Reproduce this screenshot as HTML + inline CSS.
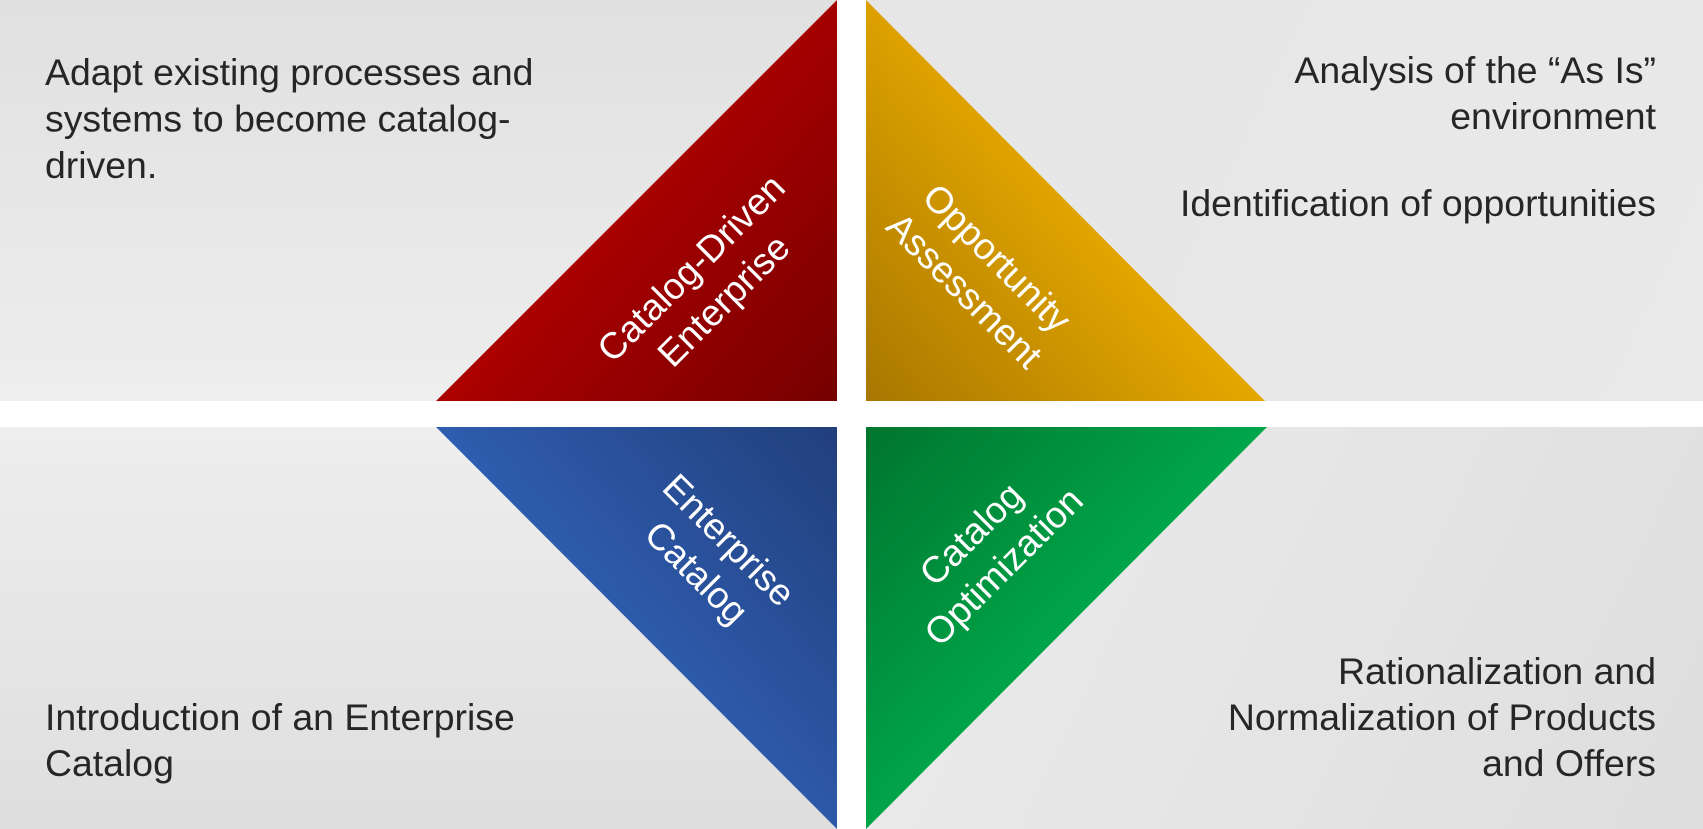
<!DOCTYPE html>
<html>
<head>
<meta charset="utf-8">
<style>
  html,body{margin:0;padding:0;background:#fff;}
  body{width:1703px;height:829px;overflow:hidden;}
  svg{display:block;}
  text{font-family:"Liberation Sans", Arial, sans-serif;}
</style>
</head>
<body>
<svg width="1703" height="829" viewBox="0 0 1703 829" xmlns="http://www.w3.org/2000/svg">
  <defs>
    <linearGradient id="gTL" x1="0" y1="0" x2="0" y2="401" gradientUnits="userSpaceOnUse">
      <stop offset="0" stop-color="#e0e0e0"/>
      <stop offset="1" stop-color="#eeeeee"/>
    </linearGradient>
    <linearGradient id="gBL" x1="0" y1="427" x2="0" y2="829" gradientUnits="userSpaceOnUse">
      <stop offset="0" stop-color="#eeeeee"/>
      <stop offset="1" stop-color="#dedede"/>
    </linearGradient>
    <linearGradient id="gTR" x1="866" y1="0" x2="1703" y2="401" gradientUnits="userSpaceOnUse">
      <stop offset="0" stop-color="#e6e6e6"/>
      <stop offset="1" stop-color="#e9e9e9"/>
    </linearGradient>
    <linearGradient id="gBR" x1="866" y1="427" x2="1703" y2="829" gradientUnits="userSpaceOnUse">
      <stop offset="0" stop-color="#ececec"/>
      <stop offset="1" stop-color="#dedede"/>
    </linearGradient>

    <linearGradient id="red" x1="600" y1="200" x2="837" y2="401" gradientUnits="userSpaceOnUse">
      <stop offset="0" stop-color="#ad0000"/>
      <stop offset="1" stop-color="#760000"/>
    </linearGradient>
    <linearGradient id="yel" x1="1100" y1="200" x2="866" y2="401" gradientUnits="userSpaceOnUse">
      <stop offset="0" stop-color="#e6a800"/>
      <stop offset="1" stop-color="#a87700"/>
    </linearGradient>
    <linearGradient id="blu" x1="600" y1="630" x2="837" y2="427" gradientUnits="userSpaceOnUse">
      <stop offset="0" stop-color="#2f5db0"/>
      <stop offset="1" stop-color="#213f7b"/>
    </linearGradient>
    <linearGradient id="grn" x1="866" y1="427" x2="1080" y2="630" gradientUnits="userSpaceOnUse">
      <stop offset="0" stop-color="#00752e"/>
      <stop offset="1" stop-color="#00a74a"/>
    </linearGradient>
  </defs>

  <!-- background panels -->
  <rect x="0" y="0" width="1703" height="829" fill="#ffffff"/>
  <rect x="0" y="0" width="837" height="401" fill="url(#gTL)"/>
  <rect x="866" y="0" width="837" height="401" fill="url(#gTR)"/>
  <rect x="0" y="427" width="837" height="402" fill="url(#gBL)"/>
  <rect x="866" y="427" width="837" height="402" fill="url(#gBR)"/>

  <!-- triangles -->
  <polygon points="837,0 837,401 436,401" fill="url(#red)"/>
  <polygon points="866,0 866,401 1265,401" fill="url(#yel)"/>
  <polygon points="436,427 837,427 837,829" fill="url(#blu)"/>
  <polygon points="866,427 1267,427 866,829" fill="url(#grn)"/>

  <!-- corner texts -->
  <g font-size="37.4" fill="#262626">
    <text x="45" y="85">Adapt existing processes and</text>
    <text x="45" y="131.5">systems to become catalog-</text>
    <text x="45" y="178">driven.</text>

    <text x="1656" y="83" text-anchor="end">Analysis of the “As Is”</text>
    <text x="1656" y="129" text-anchor="end">environment</text>
    <text x="1656" y="216" text-anchor="end">Identification of opportunities</text>

    <text x="45" y="730">Introduction of an Enterprise</text>
    <text x="45" y="776">Catalog</text>

    <text x="1656" y="684" text-anchor="end">Rationalization and</text>
    <text x="1656" y="730" text-anchor="end">Normalization of Products</text>
    <text x="1656" y="776" text-anchor="end">and Offers</text>
  </g>

  <!-- triangle labels -->
  <g font-size="37" fill="#ffffff" text-anchor="middle">
    <g transform="translate(707,284) rotate(-45)">
      <text x="0" y="-10">Catalog-Driven</text>
      <text x="0" y="36">Enterprise</text>
    </g>
    <g transform="translate(981,274) rotate(45)">
      <text x="0" y="-10">Opportunity</text>
      <text x="0" y="36">Assessment</text>
    </g>
    <g transform="translate(713,556) rotate(45)">
      <text x="0" y="-10">Enterprise</text>
      <text x="0" y="36">Catalog</text>
    </g>
    <g transform="translate(987,550) rotate(-45)">
      <text x="0" y="-10">Catalog</text>
      <text x="0" y="36">Optimization</text>
    </g>
  </g>
</svg>
</body>
</html>
